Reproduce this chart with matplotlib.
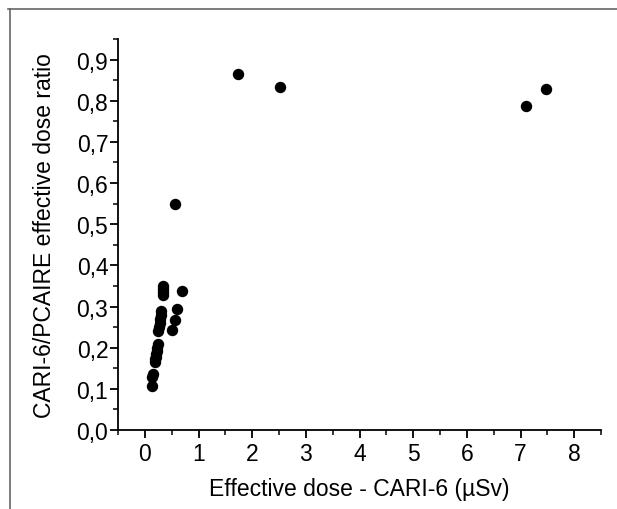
import matplotlib
matplotlib.use("Agg")
import matplotlib.pyplot as plt
from matplotlib.ticker import MultipleLocator, FuncFormatter
from matplotlib.lines import Line2D

plt.rcParams['font.family'] = ['Liberation Sans', 'DejaVu Sans']

# Data: effective dose CARI-6 (µSv) vs CARI-6/PCAIRE ratio
dose = [1.74, 2.51, 7.11, 7.48, 0.56,
        0.69, 0.60, 0.56, 0.50,
        0.34, 0.34, 0.33, 0.33,
        0.31, 0.30, 0.29, 0.28, 0.27, 0.25,
        0.24, 0.23, 0.22, 0.21, 0.20, 0.19, 0.19,
        0.15, 0.14, 0.13]
ratio = [0.865, 0.833, 0.787, 0.829, 0.549,
         0.338, 0.293, 0.268, 0.244,
         0.350, 0.342, 0.335, 0.328,
         0.288, 0.280, 0.270, 0.260, 0.250, 0.240,
         0.210, 0.200, 0.192, 0.185, 0.178, 0.172, 0.166,
         0.137, 0.128, 0.108]

xlabel = "Effective dose - CARI-6 (µSv)"
ylabel = "CARI-6/PCAIRE effective dose ratio"

W, H = 617, 510
fig = plt.figure(figsize=(W/100, H/100), dpi=100)
ax = fig.add_axes([118/W, 1-431/H, (601-118)/W, (431-40)/H])

ax.plot(dose, ratio, 'o', color='black', markersize=7.2, linestyle='none')

ax.set_xlim(-0.5, 8.5)
ax.set_ylim(0, 0.95)
ax.xaxis.set_major_locator(MultipleLocator(1))
ax.xaxis.set_minor_locator(MultipleLocator(0.5))
ax.yaxis.set_major_locator(MultipleLocator(0.1))
ax.yaxis.set_minor_locator(MultipleLocator(0.05))
ax.yaxis.set_major_formatter(FuncFormatter(lambda v, p: f"{v:.1f}".replace('.', ',')))
ax.xaxis.set_major_formatter(FuncFormatter(lambda v, p: f"{v:.0f}"))

for s in ['top', 'right']:
    ax.spines[s].set_visible(False)
for s in ['left', 'bottom']:
    ax.spines[s].set_linewidth(1.3)

ax.tick_params(which='major', direction='out', length=6, width=1.3, labelsize=16.5)
ax.tick_params(axis='y', which='major', pad=1)
ax.tick_params(axis='x', which='major', pad=3)
ax.tick_params(which='minor', direction='out', length=3.5, width=1.1)

ax.set_xlabel(xlabel, fontsize=16.5, labelpad=8)
ax.set_ylabel(ylabel, fontsize=16.5, labelpad=15)

fig.add_artist(Line2D([10/W, 10/W], [0, 1-10/H], color='#666666', linewidth=1.2, transform=fig.transFigure))
fig.add_artist(Line2D([8/W, 1], [1-10/H, 1-10/H], color='#666666', linewidth=1.2, transform=fig.transFigure))

fig.savefig("out.png", dpi=100)
